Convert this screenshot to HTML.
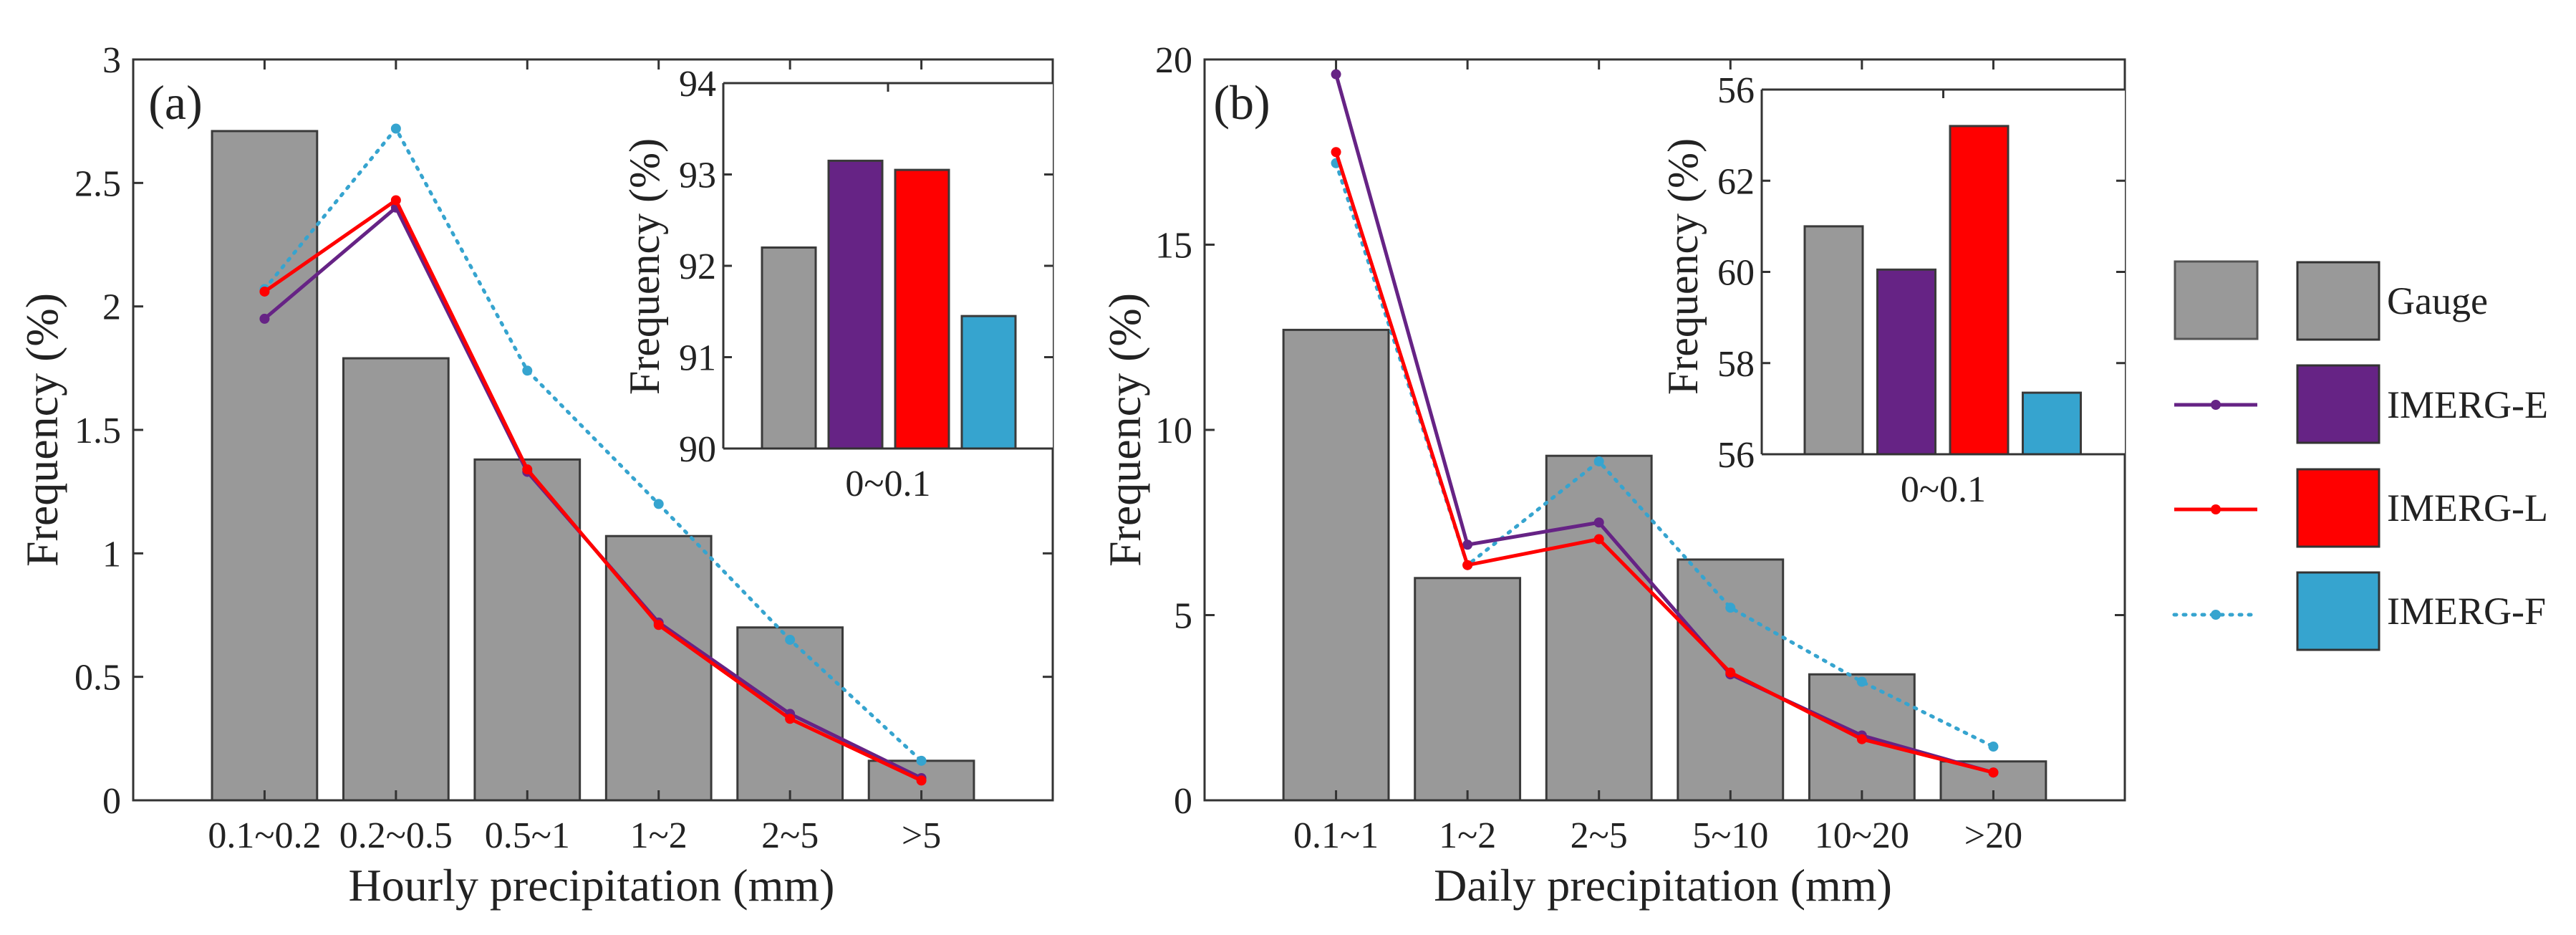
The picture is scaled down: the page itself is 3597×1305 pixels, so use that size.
<!DOCTYPE html>
<html><head><meta charset="utf-8"><style>
html,body{margin:0;padding:0;background:#fff}
svg{display:block;font-family:"Liberation Serif",serif}
</style></head><body>
<svg id="chart" width="3597" height="1305" viewBox="0 0 3597 1305" xmlns="http://www.w3.org/2000/svg"></svg>
<script>
// Panel (a) data
const catsA = ["0.1~0.2","0.2~0.5","0.5~1","1~2","2~5",">5"];
const gaugeA = [2.71,1.79,1.38,1.07,0.70,0.16];
const eA = [1.95,2.40,1.33,0.72,0.35,0.09];
const lA = [2.06,2.43,1.34,0.71,0.33,0.08];
const fA = [2.07,2.72,1.74,1.20,0.65,0.16];
const ticksA = [0,0.5,1,1.5,2,2.5,3];
const tickLabelsA = ["0","0.5","1","1.5","2","2.5","3"];
const insetA = [92.2,93.15,93.05,91.45];
const insetTicksA = [90,91,92,93,94];
const insetTickLabelsA = ["90","91","92","93","94"];
// Panel (b) data
const catsB = ["0.1~1","1~2","2~5","5~10","10~20",">20"];
const gaugeB = [12.7,6.0,9.3,6.5,3.4,1.05];
const eB = [19.6,6.9,7.5,3.4,1.75,0.75];
const lB = [17.5,6.35,7.05,3.45,1.65,0.75];
const fB = [17.2,6.35,9.15,5.2,3.2,1.45];
const ticksB = [0,5,10,15,20];
const tickLabelsB = ["0","5","10","15","20"];
const insetB = [61.0,60.05,63.2,57.35];
const insetTicksB = [56,58,60,62,64];
const insetTickLabelsB = ["56","58","60","62","56"];
const seriesNames = ["Gauge","IMERG-E","IMERG-L","IMERG-F"];

const NS="http://www.w3.org/2000/svg";
const svg=document.getElementById('chart');
const GRAY="#999999",EDGE="#3a3a3a",PUR="#662385",RED="#ff0000",BLU="#36a4cf";
const colors=[GRAY,PUR,RED,BLU];
function el(tag,attrs,parent,text){const e=document.createElementNS(NS,tag);for(const k in attrs)e.setAttribute(k,attrs[k]);if(text!==undefined)e.textContent=text;(parent||svg).appendChild(e);return e;}

function panel(o){
  const g=el('g',{});
  
  
  const L=o.left,R=o.right,T=83,B=1117;
  const xs=i=>L+(i+1)*(R-L)/7;
  const ys=v=>B-(v-o.ymin)/(o.ymax-o.ymin)*(B-T);
  const bw=0.8*(R-L)/7;
  // bars
  o.gauge.forEach((v,i)=>{
    const r=el('rect',{x:xs(i)-bw/2,y:ys(v),width:bw,height:B-ys(v),fill:GRAY,stroke:EDGE,'stroke-width':3},g);
    
    
  });
  // lines
  const lines=[[o.e,PUR,'imerg-e-line',null],[o.l,RED,'imerg-l-line',null],[o.f,BLU,'imerg-f-line','3 10']];
  // draw F first, then E, then L
  [lines[2],lines[0],lines[1]].forEach(([vals,c,nm,dash])=>{
    const pts=vals.map((v,i)=>xs(i)+','+ys(v)).join(' ');
    const a={points:pts,fill:'none',stroke:c,'stroke-width':dash?5:5,'stroke-linejoin':'round'};
    if(dash){a['stroke-dasharray']=dash;a['stroke-linecap']='round';}
    const pl=el('polyline',a,g);
    
    
    vals.forEach((v,i)=>{
      const m=el('circle',{cx:xs(i),cy:ys(v),r:7,fill:c},g);
      
      
    });
  });
  // axes box
  const ax=el('rect',{x:L,y:T,width:R-L,height:B-T,fill:'none',stroke:'#333','stroke-width':3},g);
  
  
  o.ticks.forEach((t,i)=>{
    el('line',{x1:L,x2:L+14,y1:ys(t),y2:ys(t),stroke:'#333','stroke-width':3},g);
    el('line',{x1:R,x2:R-14,y1:ys(t),y2:ys(t),stroke:'#333','stroke-width':3},g);
    const tl=el('text',{x:L-17,y:ys(t)+18,'font-size':52,'text-anchor':'end',fill:'#222'},g,o.tickLabels[i]);
    
    
  });
  o.cats.forEach((c,i)=>{
    el('line',{x1:xs(i),x2:xs(i),y1:B,y2:B-14,stroke:'#333','stroke-width':3},g);
    el('line',{x1:xs(i),x2:xs(i),y1:T,y2:T+14,stroke:'#333','stroke-width':3},g);
    const tl=el('text',{x:xs(i),y:1183,'font-size':52,'text-anchor':'middle',fill:'#222'},g,c);
    
    
  });
  const xl=el('text',{x:o.xlabX,y:1257,'font-size':64,'text-anchor':'middle',fill:'#222'},g,o.xlabel);
  
  
  const yl=el('text',{x:0,y:0,'font-size':64,'text-anchor':'middle',fill:'#222',transform:`translate(${o.ylabX},600) rotate(-90)`},g,'Frequency (%)');
  
  
  const pl=el('text',{x:o.plabX,y:166,'font-size':68,'text-anchor':'middle',fill:'#222'},g,o.plab);
  
  

  // inset
  const ig=el('g',{},g);
  
  
  const iL=o.iL,iR=R,iT=o.iT,iB=o.iB;
  const iys=v=>iB-(v-o.iTicks[0])/(o.iTicks[o.iTicks.length-1]-o.iTicks[0])*(iB-iT);
  el('rect',{x:iL,y:iT,width:iR-iL,height:iB-iT,fill:'#fff',stroke:'none'},ig);
  o.iVals.forEach((v,i)=>{
    const x=o.iBar0+i*o.iPitch;
    const r=el('rect',{x:x,y:iys(v),width:o.iBw,height:iB-iys(v),fill:colors[i],stroke:EDGE,'stroke-width':3},ig);
    
    
  });
  el('line',{x1:iL,x2:iR,y1:iT,y2:iT,stroke:'#333','stroke-width':3},ig);
  el('line',{x1:iL,x2:iR,y1:iB,y2:iB,stroke:'#333','stroke-width':3},ig);
  el('line',{x1:iL,x2:iL,y1:iT,y2:iB,stroke:'#333','stroke-width':3},ig);
  const mid=(iL+iR)/2;
  el('line',{x1:mid,x2:mid,y1:iT,y2:iT+12,stroke:'#333','stroke-width':3},ig);
  o.iTicks.forEach((t,i)=>{
    el('line',{x1:iL,x2:iL+12,y1:iys(t),y2:iys(t),stroke:'#333','stroke-width':3},ig);
    el('line',{x1:iR,x2:iR-12,y1:iys(t),y2:iys(t),stroke:'#333','stroke-width':3},ig);
    const tl=el('text',{x:iL-10,y:iys(t)+18,'font-size':52,'text-anchor':'end',fill:'#222'},ig,o.iTickLabels[i]);
    
    
  });
  const ixl=el('text',{x:mid,y:o.iXlabY,'font-size':52,'text-anchor':'middle',fill:'#222'},ig,'0~0.1');
  
  
  const iyl=el('text',{x:0,y:0,'font-size':60,'text-anchor':'middle',fill:'#222',transform:`translate(${o.iYlabX},372) rotate(-90)`},ig,'Frequency (%)');
  
  
}

panel({name:'panel-a-hourly',left:186,right:1470,ymin:0,ymax:3,cats:catsA,gauge:gaugeA,e:eA,l:lA,f:fA,
  ticks:ticksA,tickLabels:tickLabelsA,xlabel:'Hourly precipitation (mm)',xlabX:826,ylabX:80,plab:'(a)',plabX:245,
  iL:1010,iT:116,iB:626,iVals:insetA,iTicks:insetTicksA,iTickLabels:insetTickLabelsA,iBar0:1064,iPitch:93,iBw:75,iXlabY:692,iYlabX:920});
panel({name:'panel-b-daily',left:1682,right:2967,ymin:0,ymax:20,cats:catsB,gauge:gaugeB,e:eB,l:lB,f:fB,
  ticks:ticksB,tickLabels:tickLabelsB,xlabel:'Daily precipitation (mm)',xlabX:2322,ylabX:1592,plab:'(b)',plabX:1734,
  iL:2460,iT:125,iB:634,iVals:insetB,iTicks:insetTicksB,iTickLabels:insetTickLabelsB,iBar0:2520,iPitch:101.5,iBw:81,iXlabY:700,iYlabX:2370});

// legend
const lg=el('g',{});


const rowsTop=[366,510,655,799];
const baselines=[438,583,727,871];
el('rect',{x:3037,y:365,width:115,height:108,fill:GRAY,stroke:'#555','stroke-width':3},lg);
const lineRows=[[565,PUR,null],[711,RED,null],[858,BLU,'3 10']];
lineRows.forEach(([y,c,d])=>{
  const a={x1:3036,x2:3152,y1:y,y2:y,stroke:c,'stroke-width':5};
  if(d){a['stroke-dasharray']=d;a['stroke-linecap']='round';}
  el('line',a,lg);
  el('circle',{cx:3094,cy:y,r:7,fill:c},lg);
});
seriesNames.forEach((n,i)=>{
  const e=el('g',{},lg);
  
  
  el('rect',{x:3208,y:rowsTop[i],width:114,height:108,fill:colors[i],stroke:'#333','stroke-width':3},e);
  el('text',{x:3333,y:baselines[i],'font-size':54,fill:'#222'},e,n);
});
</script>
</body></html>
